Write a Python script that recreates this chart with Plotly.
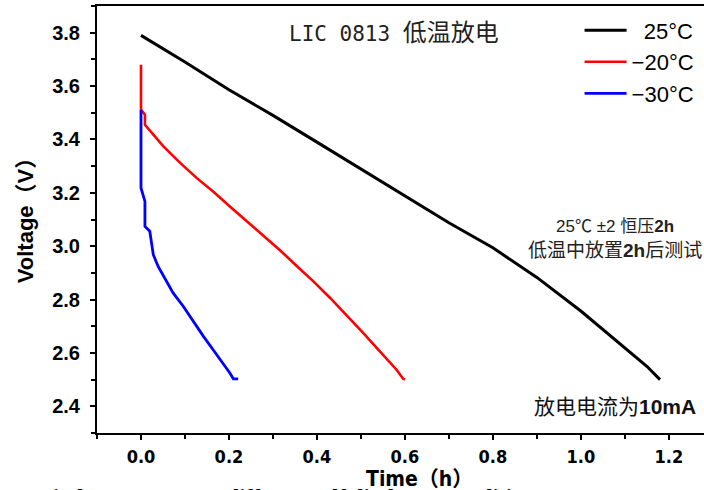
import plotly.graph_objects as go

# ---- data ----
t_25 = [0.0, 0.1, 0.2, 0.3, 0.4, 0.5, 0.6, 0.7, 0.8, 0.9, 1.0, 1.1, 1.15, 1.18]
v_25 = [3.79, 3.69, 3.586, 3.49, 3.39, 3.29, 3.19, 3.088, 2.994, 2.883, 2.757, 2.621, 2.55, 2.50]

t_m20 = [0.0, 0.0, 0.009, 0.009, 0.051, 0.089, 0.127, 0.164, 0.202, 0.240, 0.278, 0.316,
         0.354, 0.392, 0.430, 0.467, 0.505, 0.543, 0.581, 0.596, 0.6]
v_m20 = [3.68, 3.512, 3.493, 3.455, 3.374, 3.312, 3.255, 3.205, 3.149, 3.095, 3.040, 2.985,
         2.926, 2.868, 2.806, 2.742, 2.675, 2.606, 2.537, 2.503, 2.50]

t_m30 = [0.0, 0.0, 0.009, 0.009, 0.020, 0.028, 0.039, 0.058, 0.073, 0.096, 0.119, 0.142,
         0.164, 0.187, 0.202, 0.21, 0.221]
v_m30 = [3.51, 3.218, 3.168, 3.074, 3.056, 2.968, 2.924, 2.868, 2.825, 2.775, 2.718, 2.662,
         2.612, 2.562, 2.525, 2.503, 2.503]

series_names = ["\u200725°C", "\u221220°C", "\u221230°C"]
series_colors = ["#000000", "#FF0000", "#0000FF"]

x_ticks = [0.0, 0.2, 0.4, 0.6, 0.8, 1.0, 1.2]
x_ticklabels = ["0.0", "0.2", "0.4", "0.6", "0.8", "1.0", "1.2"]
y_ticks = [2.4, 2.6, 2.8, 3.0, 3.2, 3.4, 3.6, 3.8]
y_ticklabels = ["2.4", "2.6", "2.8", "3.0", "3.2", "3.4", "3.6", "3.8"]

fig = go.Figure()
for xs, ys, name, col, w in [
    (t_25, v_25, series_names[0], series_colors[0], 3),
    (t_m20, v_m20, series_names[1], series_colors[1], 2.6),
    (t_m30, v_m30, series_names[2], series_colors[2], 2.8),
]:
    fig.add_trace(go.Scatter(x=xs, y=ys, mode="lines", name=name,
                             line=dict(color=col, width=w)))

cjk = "Noto Sans CJK SC"
fig.update_layout(
    width=704, height=490,
    margin=dict(l=97, r=0, t=6, b=57),
    paper_bgcolor="white", plot_bgcolor="white",
    showlegend=True,
    legend=dict(x=0.795, y=0.992, xanchor="left", yanchor="top",
                bgcolor="rgba(0,0,0,0)",
                font=dict(family="Liberation Sans, Arial, sans-serif", size=22, color="black"),
                itemwidth=42, tracegroupgap=0),
    xaxis=dict(range=[-0.1, 1.28], showgrid=False, zeroline=False,
               showline=True, linecolor="black", linewidth=2, mirror=True,
               ticks="outside", ticklen=5, tickwidth=1.5, tickcolor="black",
               tickvals=x_ticks, ticktext=x_ticklabels,
               ticklabelstandoff=1,
               tickfont=dict(family="Liberation Sans Narrow, DejaVu Sans Condensed, Arial Narrow, sans-serif",
                             size=18, color="black", weight="bold"),
               minor=dict(dtick=0.1, tick0=-0.1, ticks="outside", ticklen=4,
                          tickwidth=1.5, tickcolor="black", showgrid=False)),
    yaxis=dict(range=[2.3, 3.9], showgrid=False, zeroline=False,
               showline=True, linecolor="black", linewidth=2, mirror=False,
               ticks="outside", ticklen=5, tickwidth=1.5, tickcolor="black",
               tickvals=y_ticks, ticktext=y_ticklabels,
               ticklabelstandoff=6,
               tickfont=dict(family="Liberation Sans, Arial, sans-serif",
                             size=20, color="black", weight="bold"),
               minor=dict(dtick=0.1, tick0=2.3, ticks="outside", ticklen=4,
                          tickwidth=1.5, tickcolor="black", showgrid=False)),
)

annos = [
    dict(text="LIC 0813 <span style='font-family:Noto Sans CJK SC;font-size:24px'>低温放电</span>",
         x=0.49, y=0.943, font=dict(family="DejaVu Sans Mono, monospace", size=21, color="#222")),
    dict(text="<span style='font-size:17px'>25℃ ±2 恒压<b>2h</b></span><br>低温中放置<b>2h</b>后测试",
         x=0.853, y=0.454, font=dict(family="Liberation Sans, " + cjk, size=19, color="#222")),
    dict(text="放电电流为<b>10mA</b>",
         x=0.853, y=0.061, font=dict(family="Liberation Sans, " + cjk, size=21, color="#111")),
    dict(text="<b>Voltage（V）</b>", x=-0.1186, y=0.51, textangle=-90,
         font=dict(family="Liberation Sans, Arial, " + cjk, size=22, color="black")),
    dict(text="<b>Time（h）</b>", x=0.532, y=-0.1077,
         font=dict(family="Liberation Sans Narrow, DejaVu Sans Condensed, " + cjk, size=21, color="black")),
    dict(text="<b>Discharge curves at different self discharge conditions</b>",
         x=0.318, y=-0.1148, yanchor="top",
         font=dict(family="Liberation Serif, Times New Roman, serif", size=22, color="black")),
]
for a in annos:
    base = dict(xref="paper", yref="paper", showarrow=False, xanchor="center",
                yanchor="middle")
    base.update(a)
    fig.add_annotation(**base)

fig.write_html("out.html", config={"displayModeBar": False},
               post_script="document.body.style.margin='0px';")
